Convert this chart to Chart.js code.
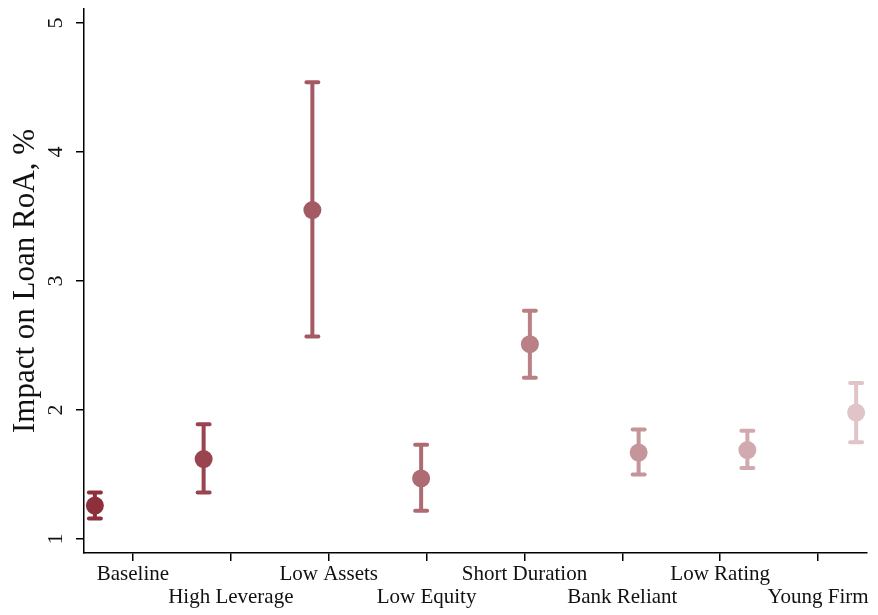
<!DOCTYPE html>
<html>
<head>
<meta charset="utf-8">
<script src="https://cdn.jsdelivr.net/npm/chart.js@4.4.1/dist/chart.umd.min.js"></script>
<style>
  html, body { margin: 0; padding: 0; background: #fff; }
  #wrap { width: 878px; height: 615px; }
</style>
</head>
<body>
<div id="wrap"><canvas id="myChart" width="878" height="615"></canvas></div>
<script>
// datos
const categorias = ['Baseline', 'High Leverage', 'Low Assets', 'Low Equity', 'Short Duration', 'Bank Reliant', 'Low Rating', 'Young Firm'];
const posiciones = [1, 2, 3, 4, 5, 6, 7, 8];
const estimaciones = [1.26, 1.62, 3.55, 1.47, 2.51, 1.67, 1.69, 1.98];
const inferior = [1.16, 1.36, 2.57, 1.22, 2.25, 1.50, 1.55, 1.75];
const superior = [1.36, 1.89, 4.54, 1.73, 2.77, 1.85, 1.84, 2.21];
const yTicks = [1, 2, 3, 4, 5];
const colores = ['#8e2f3c', '#9a4450', '#a45a62', '#ae6b73', '#b98085', '#c4959a', '#d0aaae', '#e0c4c7'];

const xMin = 0.9, xMax = 8.1;
const fuente = "'Liberation Serif', 'DejaVu Serif', serif";

// Plugin para dibujar las barras de error
const barrasError = {
  id: 'barrasError',
  beforeDatasetsDraw(chart) {
    const ctx = chart.ctx;
    const x = chart.scales.x, y = chart.scales.y;
    ctx.save();
    ctx.lineWidth = 4;
    ctx.lineCap = 'round';
    posiciones.forEach((p, i) => {
      const px = x.getPixelForValue(p);
      const y0 = y.getPixelForValue(inferior[i]);
      const y1 = y.getPixelForValue(superior[i]);
      ctx.strokeStyle = colores[i];
      ctx.beginPath();
      ctx.moveTo(px, y0); ctx.lineTo(px, y1);
      ctx.moveTo(px - 6, y0); ctx.lineTo(px + 6, y0);
      ctx.moveTo(px - 6, y1); ctx.lineTo(px + 6, y1);
      ctx.stroke();
    });
    ctx.restore();
  }
};

const ctx = document.getElementById('myChart').getContext('2d');
new Chart(ctx, {
  type: 'scatter',
  data: {
    datasets: [{
      data: posiciones.map((p, i) => ({ x: p, y: estimaciones[i] })),
      backgroundColor: colores,
      borderWidth: 0,
      pointRadius: 9,
      pointHoverRadius: 9
    }]
  },
  options: {
    responsive: false,
    animation: false,
    layout: { padding: { top: 2, right: 11, left: 0, bottom: 0 } },
    plugins: { legend: { display: false }, tooltip: { enabled: false } },
    scales: {
      x: {
        type: 'linear',
        min: xMin,
        max: xMax,
        afterBuildTicks(scale) {
          const paso = (xMax - xMin) / categorias.length;
          scale.ticks = categorias.map((c, i) => ({ value: xMin + (i + 0.5) * paso }));
        },
        afterFit(scale) { scale.height = 62; },
        grid: { drawOnChartArea: false, drawTicks: true, tickLength: 8, color: '#000', lineWidth: 1.5 },
        border: { display: true, color: '#000', width: 1.5 },
        ticks: {
          autoSkip: false,
          maxRotation: 0,
          minRotation: 0,
          padding: 2,
          color: '#111',
          font: { family: fuente, size: 21, lineHeight: 1.1 },
          callback: function(v, i) {
            return i % 2 === 0 ? [categorias[i], ''] : ['', categorias[i]];
          }
        }
      },
      y: {
        min: 0.892,
        max: 5.108,
        afterBuildTicks(scale) {
          scale.ticks = yTicks.map(v => ({ value: v }));
        },
        afterFit(scale) {
          scale.width = 84;
          scale.paddingTop = 0;
          scale.paddingBottom = 0;
        },
        grid: { drawOnChartArea: false, drawTicks: true, tickLength: 8, color: '#000', lineWidth: 1.5 },
        border: { display: true, color: '#000', width: 1.5 },
        title: {
          display: true,
          text: 'Impact on Loan RoA, %',
          color: '#111',
          font: { family: fuente, size: 31 },
          padding: { top: 7, bottom: 0 }
        },
        ticks: {
          minRotation: 90,
          maxRotation: 90,
          crossAlign: 'center',
          padding: 14,
          color: '#111',
          font: { family: fuente, size: 22 }
        }
      }
    }
  },
  plugins: [barrasError]
});
</script>
</body>
</html>
